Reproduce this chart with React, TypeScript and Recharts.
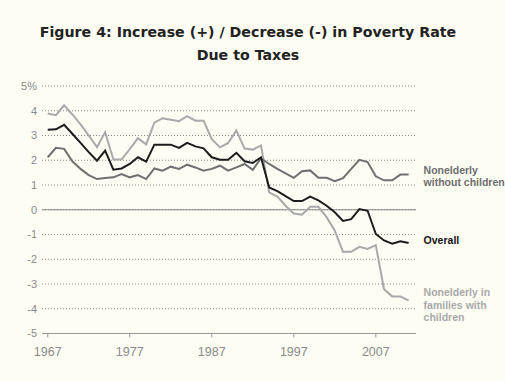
import React from "react";
import {
  LineChart,
  Line,
  XAxis,
  YAxis,
  CartesianGrid,
  ReferenceLine,
  LabelList,
} from "recharts";

const years = [
  1967, 1968, 1969, 1970, 1971, 1972, 1973, 1974, 1975, 1976, 1977, 1978,
  1979, 1980, 1981, 1982, 1983, 1984, 1985, 1986, 1987, 1988, 1989, 1990,
  1991, 1992, 1993, 1994, 1995, 1996, 1997, 1998, 1999, 2000, 2001, 2002,
  2003, 2004, 2005, 2006, 2007, 2008, 2009, 2010, 2011,
];

const overall = [
  3.23, 3.25, 3.43, 3.07, 2.7, 2.33, 1.98, 2.39, 1.62, 1.67, 1.85, 2.12,
  1.94, 2.63, 2.63, 2.63, 2.5, 2.7, 2.56, 2.48, 2.12, 2.02, 2.02, 2.3,
  1.96, 1.89, 2.12, 0.9, 0.75, 0.55, 0.35, 0.35, 0.53, 0.38, 0.16, -0.1,
  -0.45, -0.38, 0.03, -0.04, -0.98, -1.24, -1.37, -1.27, -1.34,
];

const withChildren = [
  3.89, 3.82, 4.22, 3.85, 3.45, 3.0, 2.53, 3.13, 2.03, 2.03, 2.45, 2.89,
  2.64, 3.52, 3.7, 3.64, 3.58, 3.78, 3.6, 3.6, 2.85, 2.52, 2.7, 3.2,
  2.47, 2.43, 2.6, 0.7, 0.53, 0.16, -0.15, -0.2, 0.12, 0.12, -0.3, -0.85,
  -1.7, -1.7, -1.5, -1.58, -1.43, -3.21, -3.5, -3.5, -3.67,
];

const withoutChildren = [
  2.12, 2.5, 2.46, 1.96, 1.65, 1.4, 1.24, 1.28, 1.31, 1.44, 1.31, 1.4,
  1.24, 1.67, 1.58, 1.74, 1.65, 1.82, 1.71, 1.58, 1.65, 1.78, 1.58, 1.71,
  1.85, 1.61, 2.08, 1.85, 1.65, 1.47, 1.29, 1.56, 1.59, 1.29, 1.29, 1.15,
  1.28, 1.65, 2.02, 1.93, 1.35, 1.19, 1.19, 1.42, 1.42,
];

const xTicks = [1967, 1977, 1987, 1997, 2007];
const yTicks = [5, 4, 3, 2, 1, 0, -1, -2, -3, -4, -5];

const labelWithout = ["Nonelderly", "without children"];
const labelOverall = ["Overall"];
const labelWith = ["Nonelderly in", "families with", "children"];

const data = years.map((year, i) => ({
  year,
  overall: overall[i],
  withChildren: withChildren[i],
  withoutChildren: withoutChildren[i],
}));

const lastIndex = years.length - 1;

const makeLabel =
  (lines: string[], color: string, dy0: number) => (props: any) => {
    if (props.index !== lastIndex) return null;
    const x = Number(props.x) + 15;
    const y = Number(props.y);
    return (
      <text
        x={x}
        y={y + dy0}
        fill={color}
        fontSize={10.5}
        fontWeight="bold"
        fontFamily="'Liberation Sans', Arial, sans-serif"
      >
        {lines.map((l, i) => (
          <tspan key={i} x={x} y={y + dy0 + i * 12.6}>
            {l}
          </tspan>
        ))}
      </text>
    );
  };

const BG = "#fdfdf3";

export default function App() {
  return (
    <div
      style={{
        position: "absolute",
        left: 0,
        top: 0,
        width: 505,
        height: 381,
        background: BG,
        overflow: "hidden",
      }}
    >
      <div
        style={{
          position: "absolute",
          left: 0,
          top: 20.5,
          width: 496,
          textAlign: "center",
          fontFamily: "'DejaVu Sans', sans-serif",
          fontWeight: "bold",
          fontSize: 14.2,
          lineHeight: "23px",
          color: "#222",
        }}
      >
        Figure 4: Increase (+) / Decrease (-) in Poverty Rate
        <br />
        Due to Taxes
      </div>
      <div style={{ position: "absolute", left: 0, top: 0 }}>
        <LineChart
          width={505}
          height={381}
          data={data}
          margin={{ top: 86, right: 89, bottom: 17.5, left: 0 }}
        >
          <CartesianGrid
            vertical={false}
            stroke="#8a8a8a"
            strokeDasharray="1 2"
          />
          <XAxis
            dataKey="year"
            type="number"
            domain={[1966.3, 2011.9]}
            ticks={xTicks}
            height={30}
            tickSize={4}
            tickMargin={10}
            stroke="#999"
            tick={{
              fill: "#8a8a8a",
              fontSize: 12.5,
              fontFamily: "'Liberation Sans', Arial, sans-serif",
            }}
          />
          <YAxis
            type="number"
            domain={[-5, 5]}
            ticks={yTicks}
            width={42}
            axisLine={false}
            tickLine={false}
            tickSize={3}
            tickMargin={2}
            tickFormatter={(v: number) => (v === 5 ? "5%" : String(v))}
            tick={{
              fill: "#8a8a8a",
              fontSize: 11,
              fontFamily: "'Liberation Sans', Arial, sans-serif",
            }}
          />
          <ReferenceLine y={0} stroke="#888" strokeWidth={1.2} />
          <Line
            dataKey="withChildren"
            type="linear"
            stroke="#a9a9a9"
            strokeWidth={2}
            dot={false}
            isAnimationActive={false}
          >
            <LabelList content={makeLabel(labelWith, "#a9a9a9", -4.6)} />
          </Line>
          <Line
            dataKey="withoutChildren"
            type="linear"
            stroke="#707070"
            strokeWidth={2}
            dot={false}
            isAnimationActive={false}
          >
            <LabelList content={makeLabel(labelWithout, "#6e6e6e", -1)} />
          </Line>
          <Line
            dataKey="overall"
            type="linear"
            stroke="#1c1c1c"
            strokeWidth={2}
            dot={false}
            isAnimationActive={false}
          >
            <LabelList content={makeLabel(labelOverall, "#111", 0.8)} />
          </Line>
        </LineChart>
      </div>
    </div>
  );
}
